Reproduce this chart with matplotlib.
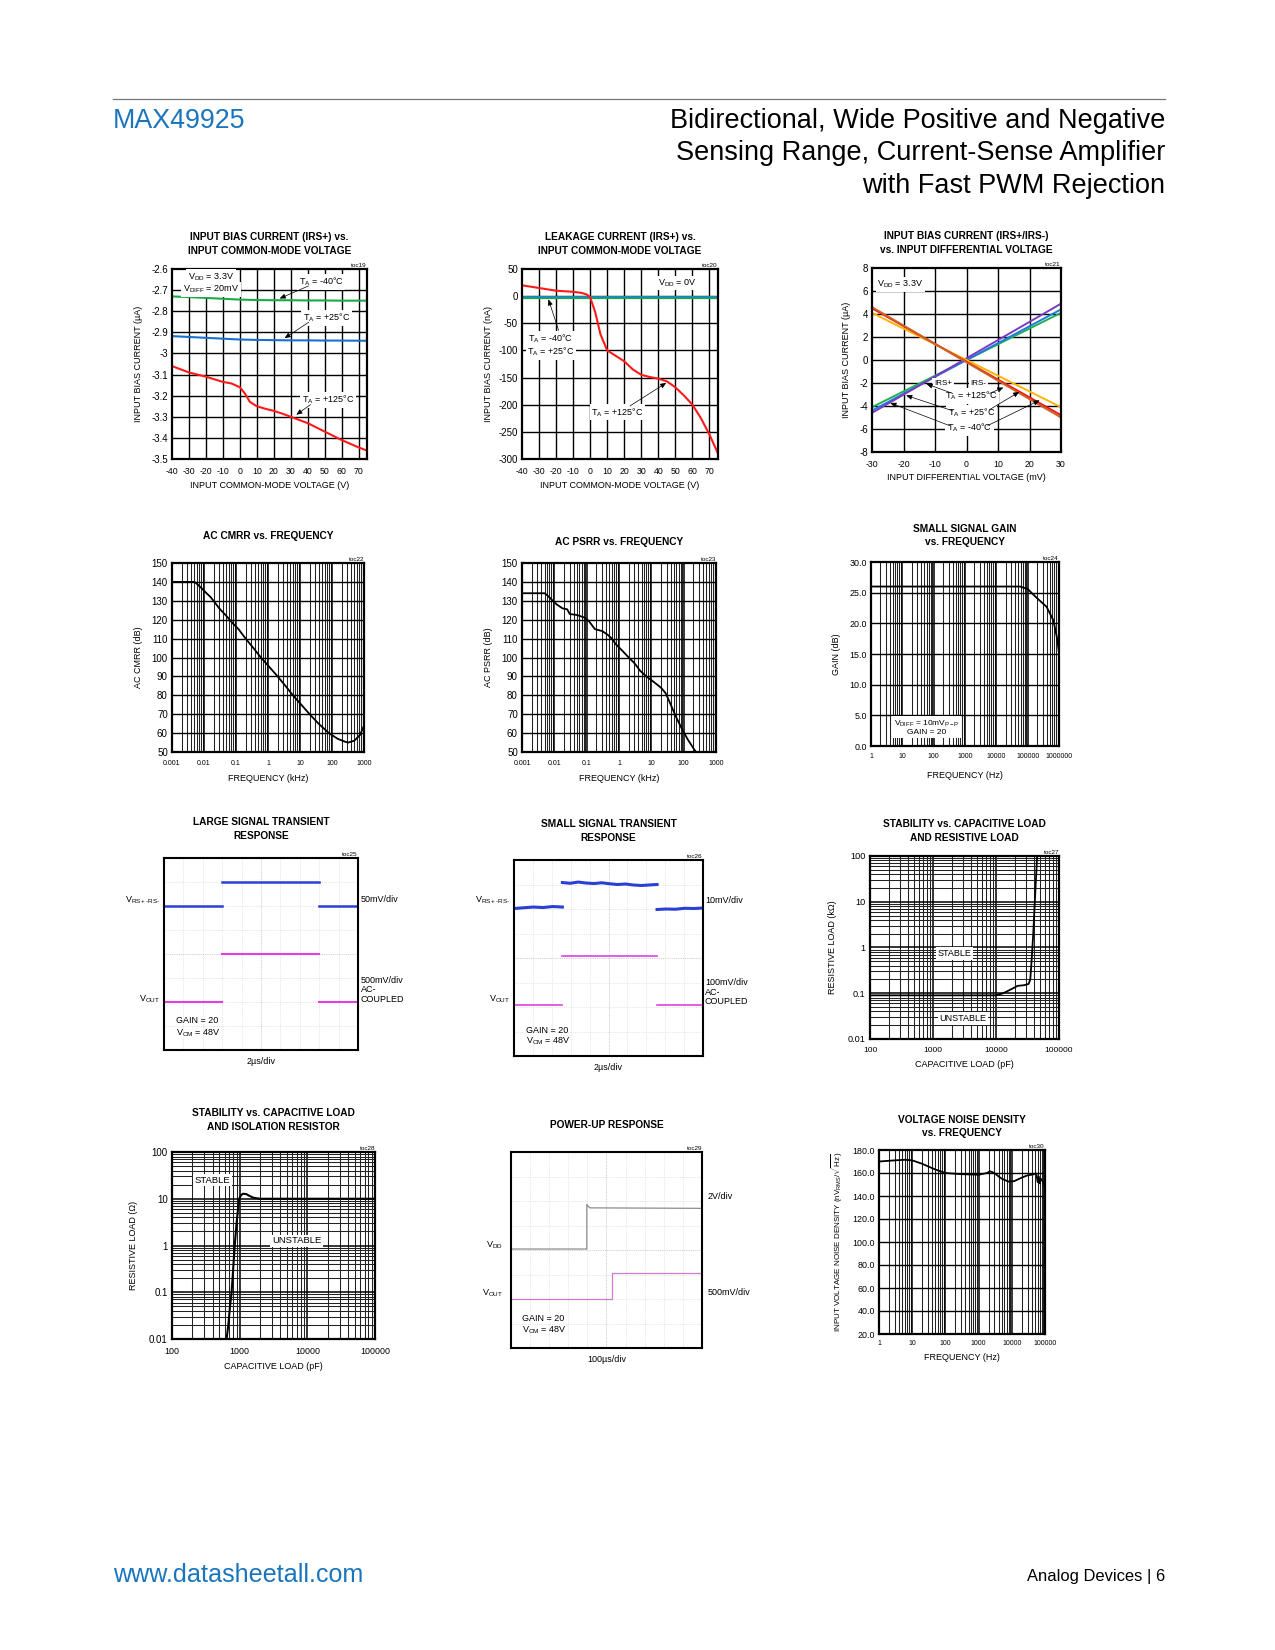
import numpy as np
import matplotlib
matplotlib.use('Agg')
import matplotlib.pyplot as plt
from matplotlib import font_manager as fm
from matplotlib.ticker import FixedLocator, FixedFormatter, NullFormatter, LogLocator, NullLocator

# ---------------- DATA ----------------
# toc19 input bias current vs VCM
t19_vcm = [-40, -30, -20, -10, 0, 10, 20, 30, 40, 50, 60, 75]
t19_m40 = [-2.730, -2.733, -2.737, -2.741, -2.745, -2.747, -2.748, -2.748, -2.749, -2.749, -2.750, -2.750]
t19_p25 = [-2.918, -2.922, -2.926, -2.930, -2.934, -2.936, -2.937, -2.938, -2.938, -2.939, -2.939, -2.940]
t19_vcm_hot = [-40, -30, -20, -10, -5, 0, 3, 6, 10, 15, 20, 25, 30, 40, 50, 60, 70, 75]
t19_p125 = [-3.06, -3.09, -3.11, -3.135, -3.142, -3.16, -3.19, -3.23, -3.25, -3.262, -3.272, -3.285,
            -3.30, -3.33, -3.37, -3.41, -3.445, -3.46]
t19_yticks = [-2.6, -2.7, -2.8, -2.9, -3.0, -3.1, -3.2, -3.3, -3.4, -3.5]
t19_ylabels = ['-2.6', '-2.7', '-2.8', '-2.9', '-3', '-3.1', '-3.2', '-3.3', '-3.4', '-3.5']
vcm_ticks = [-40, -30, -20, -10, 0, 10, 20, 30, 40, 50, 60, 70]

# toc20 leakage current
t20_vcm_flat = [-40, 75]
t20_m40 = [-3, -3]
t20_p25 = [-2, -2]
t20_vcm = [-40, -30, -20, -10, -5, -2, 0, 3, 6, 10, 15, 20, 25, 30, 35, 40, 45, 50, 55, 60, 65, 70, 75]
t20_p125 = [20, 15, 10, 8, 6, 3, -2, -30, -70, -100, -110, -120, -135, -145, -149, -152, -157,
            -168, -183, -200, -225, -255, -290]
t20_yticks = [50, 0, -50, -100, -150, -200, -250, -300]

# toc21 bias current vs differential voltage
t21_vdiff = [-30, 30]
t21_irsp_purple = [-4.6, 4.9]
t21_irsp_blue = [-4.4, 4.4]
t21_irsp_green = [-4.1, 4.1]
t21_irsm_brown = [4.6, -5.0]
t21_irsm_red = [4.5, -4.8]
t21_irsm_orange = [4.1, -4.1]
t21_yticks = [8, 6, 4, 2, 0, -2, -4, -6, -8]
t21_xticks = [-30, -20, -10, 0, 10, 20, 30]

# toc22 AC CMRR
t22_f = [0.001, 0.005, 0.006, 0.008, 0.012, 0.016, 0.022, 0.03, 0.05, 0.08, 0.12, 0.2, 0.35, 0.6,
         1.1, 2, 3.5, 6, 11, 20, 38, 80, 150, 250, 320, 500, 750, 1000]
t22_cmrr = [140, 140, 139, 137, 134, 132, 129, 126, 122, 118, 115, 110, 105, 100,
            95, 90, 85, 80, 75, 70, 65, 60, 57, 55.5, 55, 56, 59, 64]
# toc23 AC PSRR
t23_f = [0.001, 0.005, 0.006, 0.009, 0.012, 0.018, 0.025, 0.03, 0.05, 0.09, 0.12, 0.18, 0.3, 0.45,
         0.6, 0.8, 1.2, 2, 3, 4.5, 7, 12, 20, 28, 40, 60, 90, 130, 200, 240]
t23_psrr = [134, 134, 133, 130, 128, 126, 125.5, 123, 122.5, 121, 119, 115, 114, 112,
            110, 107, 104, 100, 97, 93, 90, 87, 84, 81, 75, 68, 62, 57, 52, 50]
khz_ticks = [0.001, 0.01, 0.1, 1, 10, 100, 1000]
khz_labels = ['0.001', '0.01', '0.1', '1', '10', '100', '1000']
db_ticks = [50, 60, 70, 80, 90, 100, 110, 120, 130, 140, 150]

# toc24 small signal gain
t24_f = [1, 1000, 10000, 57000, 100000, 190000, 400000, 660000, 850000, 1000000]
t24_gain = [26, 26, 26, 26, 25.6, 24.2, 22.7, 20.5, 17.8, 15.3]
hz6_ticks = [1, 10, 100, 1000, 10000, 100000, 1000000]
hz6_labels = ['1', '10', '100', '1000', '10000', '100000', '1000000']
gain_ticks = [0, 5, 10, 15, 20, 25, 30]
gain_labels = ['0.0', '5.0', '10.0', '15.0', '20.0', '25.0', '30.0']

# toc25 large-signal transient (divisions)
t25_edges = [0, 3.0, 8.0, 10]
t25_vin = [6.0, 7.0, 6.0]
t25_vout = [2.0, 4.0, 2.0]

# toc26 small-signal transient (divisions, hand-read wobble)
t26_edges = [0, 2.56, 7.57, 10]
t26_vin_seg = [[6.02, 6.05, 6.08, 6.06, 6.1, 6.08],
               [7.08, 7.05, 7.1, 7.06, 7.04, 7.07, 7.03, 7.0, 7.02, 6.98, 6.96, 6.98, 7.0],
               [5.98, 6.0, 5.99, 6.03, 6.02, 6.04]]
t26_vout = [2.08, 4.1, 2.08]

# toc27 stability vs cap load & resistive load
t27_c = [100, 1000, 10000, 13000, 18000, 22000, 28000, 33000, 35000, 37000, 39000, 41000, 43000, 45000]
t27_r = [0.09, 0.09, 0.09, 0.1, 0.125, 0.145, 0.15, 0.16, 0.2, 0.6, 2, 8, 30, 100]
# toc28 stability vs cap load & isolation resistor
t28_c = [560, 640, 680, 720, 760, 800, 845, 900, 980, 1050, 1120, 1250, 1400, 1600, 2000, 100000]
t28_r = [0.01, 0.01, 0.02, 0.05, 0.1, 0.3, 1, 3, 10, 12, 12.8, 12.6, 11.5, 10.5, 10, 10]
pf_ticks = [100, 1000, 10000, 100000]
pf_labels = ['100', '1000', '10000', '100000']
r_ticks = [0.01, 0.1, 1, 10, 100]
r_labels = ['0.01', '0.1', '1', '10', '100']

# toc29 power-up (divisions)
t29_t_vdd = [0, 3.97, 3.97, 4.12, 10]
t29_vdd = [4.04, 4.04, 5.86, 5.72, 5.70]
t29_t_vout = [0, 5.27, 5.27, 10]
t29_vout = [2.0, 2.0, 3.08, 3.08]

# toc30 voltage noise density
t30_f = [1, 3, 6, 10, 20, 50, 100, 300, 1000, 1800, 2200, 3000, 4000, 5000, 8000, 12000, 20000,
         30000, 40000, 55000, 60000, 65000, 70000, 75000, 85000, 100000]
t30_n = [170, 171, 171.5, 171, 168, 163, 160, 159, 158.5, 160, 161.5, 160, 157, 155, 152.5, 153, 156,
         158, 158.5, 159.5, 152, 157, 151, 155, 153, 147]
hz5_ticks = [1, 10, 100, 1000, 10000, 100000]
hz5_labels = ['1', '10', '100', '1000', '10000', '100000']
n_ticks = [20, 40, 60, 80, 100, 120, 140, 160, 180]
n_labels = ['20.0', '40.0', '60.0', '80.0', '100.0', '120.0', '140.0', '160.0', '180.0']

# ---------------- STYLE ----------------
names = {f.name for f in fm.fontManager.ttflist}
NARROW = 'Liberation Sans Narrow' if 'Liberation Sans Narrow' in names else 'Liberation Sans'
plt.rcParams['font.family'] = [NARROW, 'DejaVu Sans']
plt.rcParams['axes.unicode_minus'] = False
plt.rcParams['mathtext.fontset'] = 'custom'
plt.rcParams['mathtext.rm'] = NARROW
plt.rcParams['mathtext.it'] = NARROW

W, H = 1275, 1650
fig = plt.figure(figsize=(W / 100, H / 100), dpi=100)

BLUE = '#1a75bc'
TICK = 6.3
YTICK = 7.0
LAB = 6.5
TITLE = 7.3


def place(l, t, r, b):
    return fig.add_axes([l / W, 1 - b / H, (r - l) / W, (b - t) / H])


def frame(ax, lw=1.6, xpad=3):
    for s in ax.spines.values():
        s.set_linewidth(lw)
        s.set_color('black')
        s.set_zorder(5)
    ax.tick_params(length=0, labelsize=TICK, pad=3)
    ax.tick_params(axis='y', labelsize=YTICK)
    ax.tick_params(axis='x', pad=xpad)


def title(ax, txt, pad=10, toc=None):
    ax.set_title(txt, fontsize=TITLE, fontweight='bold', pad=pad, linespacing=1.45)
    if toc:
        ax.text(1.0, 1.004, toc, transform=ax.transAxes, ha='right', va='bottom', fontsize=4.6)


def linear_grid(ax, xt, yt):
    for x in xt:
        ax.axvline(x, color='black', lw=1.0, zorder=1)
    for y in yt:
        ax.axhline(y, color='black', lw=1.0, zorder=1)


def log_grid(ax, xlog=True, ylog=False, xdec=None, ydec=None, lin_y=None, lin_x=None):
    if xlog:
        for d in xdec:
            ax.axvline(d, color='black', lw=1.1, zorder=1)
            for m in range(2, 10):
                ax.axvline(d * m, color='#222222', lw=0.75, zorder=1)
    if lin_x is not None:
        for x in lin_x:
            ax.axvline(x, color='black', lw=1.0, zorder=1)
    if ylog:
        for d in ydec:
            ax.axhline(d, color='black', lw=1.1, zorder=1)
            for m in range(2, 10):
                ax.axhline(d * m, color='#222222', lw=0.75, zorder=1)
    if lin_y is not None:
        for y in lin_y:
            ax.axhline(y, color='black', lw=1.0, zorder=1)


def wbox(ax, x, y, s, **kw):
    kw.setdefault('fontsize', 6.5)
    return ax.text(x, y, s, bbox=dict(facecolor='white', edgecolor='none', pad=1.2), zorder=6, **kw)


def arrow(ax, xy, xytext):
    ax.annotate('', xy=xy, xytext=xytext,
                arrowprops=dict(arrowstyle='-|>,head_length=0.35,head_width=0.15', color='black', lw=0.5),
                zorder=7)


# ---------------- HEADER / FOOTER ----------------
fig.add_artist(plt.Line2D([113 / W, 1165 / W], [1 - 99 / H, 1 - 99 / H], color='#777777', lw=0.9))
fig.text(113 / W, 1 - 121 / H, 'MAX49925', color=BLUE, fontsize=19.3, family='Liberation Sans', va='center')
for i, line in enumerate(['Bidirectional, Wide Positive and Negative',
                          'Sensing Range, Current-Sense Amplifier',
                          'with Fast PWM Rejection']):
    fig.text(1165 / W, 1 - (121 + 32.5 * i) / H, line, fontsize=19.5, family='Liberation Sans',
             ha='right', va='center')
fig.text(113 / W, 1 - 1575 / H, 'www.datasheetall.com', color=BLUE, fontsize=18.1, family='Liberation Sans',
         va='center')
fig.text(1165 / W, 1 - 1577 / H, 'Analog Devices | 6', fontsize=11.9, family='Liberation Sans',
         ha='right', va='center')

# ---------------- toc19 ----------------
ax = place(172, 269, 367, 459)
frame(ax, xpad=6)
ax.set_xlim(-40, 75)
ax.set_ylim(-3.5, -2.6)
linear_grid(ax, vcm_ticks[1:], t19_yticks[1:-1])
ax.plot(t19_vcm, t19_m40, color='#1aaa4a', lw=1.5, zorder=3)
ax.plot(t19_vcm, t19_p25, color='#1a6fd0', lw=1.5, zorder=3)
ax.plot(t19_vcm_hot, t19_p125, color='#ff1a1a', lw=1.5, zorder=3)
ax.xaxis.set_major_locator(FixedLocator(vcm_ticks))
ax.yaxis.set_major_locator(FixedLocator(t19_yticks))
ax.yaxis.set_major_formatter(FixedFormatter(t19_ylabels))
ax.set_xlabel('INPUT COMMON-MODE VOLTAGE (V)', fontsize=LAB, labelpad=3)
ax.set_ylabel('INPUT BIAS CURRENT (µA)', fontsize=LAB, labelpad=6)
title(ax, 'INPUT BIAS CURRENT (IRS+) vs.\nINPUT COMMON-MODE VOLTAGE', pad=11, toc='toc19')
wbox(ax, -17, -2.637, r'V$_{\mathrm{DD}}$ = 3.3V', ha='center', va='center')
wbox(ax, -17, -2.697, r'V$_{\mathrm{DIFF}}$ = 20mV', ha='center', va='center')
wbox(ax, 48, -2.662, r'T$_{\mathrm{A}}$ = -40°C', ha='center', va='center')
wbox(ax, 51, -2.832, r'T$_{\mathrm{A}}$ = +25°C', ha='center', va='center')
wbox(ax, 52, -3.22, r'T$_{\mathrm{A}}$ = +125°C', ha='center', va='center')
arrow(ax, (22, -2.745), (42, -2.675))
arrow(ax, (25, -2.935), (42, -2.845))
arrow(ax, (32, -3.298), (43, -3.235))

# ---------------- toc20 ----------------
ax = place(522, 269, 718, 459)
frame(ax, xpad=6)
ax.set_xlim(-40, 75)
ax.set_ylim(-300, 50)
linear_grid(ax, vcm_ticks[1:], t20_yticks[1:-1])
ax.plot(t20_vcm_flat, t20_m40, color='#1aaa4a', lw=1.6, zorder=3)
ax.plot(t20_vcm_flat, t20_p25, color='#1a8fb0', lw=1.4, zorder=3)
ax.plot(t20_vcm, t20_p125, color='#ff1a1a', lw=1.5, zorder=3)
ax.xaxis.set_major_locator(FixedLocator(vcm_ticks))
ax.yaxis.set_major_locator(FixedLocator(t20_yticks))
ax.set_xlabel('INPUT COMMON-MODE VOLTAGE (V)', fontsize=LAB, labelpad=3)
ax.set_ylabel('INPUT BIAS CURRENT (nA)', fontsize=LAB, labelpad=4)
title(ax, 'LEAKAGE CURRENT (IRS+) vs.\nINPUT COMMON-MODE VOLTAGE', pad=11, toc='toc20')
wbox(ax, 51, 24, r'V$_{\mathrm{DD}}$ = 0V', ha='center', va='center')
wbox(ax, -23, -78, r'T$_{\mathrm{A}}$ = -40°C', ha='center', va='center')
wbox(ax, -23, -103, r'T$_{\mathrm{A}}$ = +25°C', ha='center', va='center')
wbox(ax, 16, -214, r'T$_{\mathrm{A}}$ = +125°C', ha='center', va='center')
arrow(ax, (-25, -1), (-18, -68))
arrow(ax, (46, -157), (22, -205))

# ---------------- toc21 ----------------
ax = place(872, 268, 1061, 452)
frame(ax, xpad=6)
ax.set_xlim(-30, 30)
ax.set_ylim(-8, 8)
linear_grid(ax, t21_xticks[1:-1], t21_yticks[1:-1])
ax.plot(t21_vdiff, t21_irsp_green, color='#20b050', lw=1.4, zorder=3)
ax.plot(t21_vdiff, t21_irsp_blue, color='#1f7be0', lw=1.4, zorder=3)
ax.plot(t21_vdiff, t21_irsp_purple, color='#7a3cc0', lw=1.4, zorder=3)
ax.plot(t21_vdiff, t21_irsm_orange, color='#ffb400', lw=1.4, zorder=3)
ax.plot(t21_vdiff, t21_irsm_red, color='#ff1010', lw=1.4, zorder=3)
ax.plot(t21_vdiff, t21_irsm_brown, color='#c8642a', lw=1.4, zorder=3)
ax.xaxis.set_major_locator(FixedLocator(t21_xticks))
ax.yaxis.set_major_locator(FixedLocator(t21_yticks))
ax.set_xlabel('INPUT DIFFERENTIAL VOLTAGE (mV)', fontsize=LAB, labelpad=3)
ax.set_ylabel('INPUT BIAS CURRENT (µA)', fontsize=LAB, labelpad=6)
title(ax, 'INPUT BIAS CURRENT (IRS+/IRS-)\nvs. INPUT DIFFERENTIAL VOLTAGE', pad=11, toc='toc21')
wbox(ax, -21, 6.55, r'V$_{\mathrm{DD}}$ = 3.3V', ha='center', va='center')
wbox(ax, -7.5, -2.05, 'IRS+', ha='center', va='center', fontsize=5.8)
wbox(ax, 3.8, -2.05, 'IRS-', ha='center', va='center', fontsize=5.8)
wbox(ax, 1.5, -3.15, r'T$_{\mathrm{A}}$ = +125°C', ha='center', va='center')
wbox(ax, 1.5, -4.6, r'T$_{\mathrm{A}}$ = +25°C', ha='center', va='center')
wbox(ax, 1.0, -5.9, r'T$_{\mathrm{A}}$ = -40°C', ha='center', va='center')
arrow(ax, (-13.5, -2.0), (-3.5, -3.0))
arrow(ax, (-20, -3.0), (-3.5, -4.5))
arrow(ax, (-25, -3.65), (-4.5, -5.8))
arrow(ax, (12.5, -2.3), (6.5, -3.0))
arrow(ax, (17.5, -2.65), (6.5, -4.45))
arrow(ax, (24, -3.4), (6.0, -5.8))

# ---------------- toc22 / toc23 ----------------
for (l, t, r, b), f, v, ttl, toc, ylab, pad in [
        ((172, 563, 364, 752), t22_f, t22_cmrr, 'AC CMRR vs. FREQUENCY', 'toc22', 'AC CMRR (dB)', 17),
        ((522, 563, 716, 752), t23_f, t23_psrr, 'AC PSRR vs. FREQUENCY', 'toc23', 'AC PSRR (dB)', 13)]:
    ax = place(l, t, r, b)
    frame(ax, xpad=6)
    ax.set_xscale('log')
    ax.set_xlim(0.001, 1000)
    ax.set_ylim(50, 150)
    log_grid(ax, xdec=khz_ticks[:-1], lin_y=db_ticks[1:-1])
    ax.plot(f, v, color='black', lw=1.3, zorder=3)
    ax.xaxis.set_major_locator(FixedLocator(khz_ticks))
    ax.xaxis.set_major_formatter(FixedFormatter(khz_labels))
    ax.xaxis.set_minor_locator(NullLocator())
    ax.yaxis.set_major_locator(FixedLocator(db_ticks))
    ax.tick_params(axis='x', labelsize=5.0)
    ax.set_xlabel('FREQUENCY (kHz)', fontsize=LAB, labelpad=5)
    ax.set_ylabel(ylab, fontsize=LAB, labelpad=6)
    title(ax, ttl, pad=pad, toc=toc)

# ---------------- toc24 ----------------
ax = place(871, 562, 1059, 746)
frame(ax, xpad=5)
ax.set_xscale('log')
ax.set_xlim(1, 1000000)
ax.set_ylim(0, 30)
log_grid(ax, xdec=hz6_ticks[:-1], lin_y=gain_ticks[1:-1])
ax.plot(t24_f, t24_gain, color='black', lw=1.3, zorder=3)
ax.xaxis.set_major_locator(FixedLocator(hz6_ticks))
ax.xaxis.set_major_formatter(FixedFormatter(hz6_labels))
ax.xaxis.set_minor_locator(NullLocator())
ax.yaxis.set_major_locator(FixedLocator(gain_ticks))
ax.yaxis.set_major_formatter(FixedFormatter(gain_labels))
ax.tick_params(axis='x', labelsize=5.0)
ax.tick_params(axis='y', labelsize=6.4)
ax.set_xlabel('FREQUENCY (Hz)', fontsize=LAB, labelpad=8)
ax.set_ylabel('GAIN (dB)', fontsize=LAB, labelpad=6)
title(ax, 'SMALL SIGNAL GAIN\nvs. FREQUENCY', pad=12, toc='toc24')
wbox(ax, 60, 3.0, r'V$_{\mathrm{DIFF}}$ = 10mV$_{\mathrm{P-P}}$' + '\nGAIN = 20', ha='center', va='center',
     fontsize=6.0, linespacing=1.1)


# ---------------- scope helper ----------------
def scope(ax):
    ax.set_xlim(0, 10)
    ax.set_ylim(0, 8)
    for x in range(1, 10):
        ax.axvline(x, color='#bdbdbd' if x == 5 else '#dedede', lw=0.6, ls=(0, (1, 1.2)), zorder=1)
    for y in range(1, 8):
        ax.axhline(y, color='#bdbdbd' if y == 4 else '#dedede', lw=0.6, ls=(0, (1, 1.2)), zorder=1)
    ax.set_xticks([])
    ax.set_yticks([])
    for s in ax.spines.values():
        s.set_linewidth(1.5)
        s.set_zorder(5)


SC = 6.5
# ---------------- toc25 ----------------
ax = place(164, 858, 358, 1050)
scope(ax)
title(ax, 'LARGE SIGNAL TRANSIENT\nRESPONSE', pad=14, toc='toc25')
for i in range(3):
    ax.plot([t25_edges[i], t25_edges[i + 1]], [t25_vin[i], t25_vin[i]], color='#2b3fd6', lw=1.8, zorder=3)
    ax.plot([t25_edges[i], t25_edges[i + 1]], [t25_vout[i], t25_vout[i]], color='#e040e0', lw=1.5, zorder=3)
kw = dict(fontsize=SC, clip_on=False)
ax.text(-0.2, 6.25, r'V$_{\mathrm{RS+\text{-}RS\text{-}}}$', ha='right', va='center', **kw)
ax.text(-0.2, 2.1, r'V$_{\mathrm{OUT}}$', ha='right', va='center', **kw)
ax.text(10.15, 6.25, '50mV/div', ha='left', va='center', **kw)
ax.text(10.15, 2.5, '500mV/div\nAC-\nCOUPLED', ha='left', va='center', linespacing=1.05, **kw)
ax.text(0.6, 1.22, 'GAIN = 20', ha='left', va='center', **kw)
ax.text(0.6, 0.7, r'V$_{\mathrm{CM}}$ = 48V', ha='left', va='center', **kw)
ax.text(5.0, -0.5, '2µs/div', ha='center', va='center', **kw)

# ---------------- toc26 ----------------
ax = place(514, 860, 703, 1056)
scope(ax)
title(ax, 'SMALL SIGNAL TRANSIENT\nRESPONSE', pad=14, toc='toc26')
for i in range(3):
    seg = t26_vin_seg[i]
    ax.plot(np.linspace(t26_edges[i], t26_edges[i + 1], len(seg)), seg, color='#2b3fd6', lw=2.2, zorder=3)
    ax.plot([t26_edges[i], t26_edges[i + 1]], [t26_vout[i], t26_vout[i]], color='#e040e0', lw=1.2, zorder=3)
ax.text(-0.2, 6.37, r'V$_{\mathrm{RS+\text{-}RS\text{-}}}$', ha='right', va='center', **kw)
ax.text(-0.2, 2.33, r'V$_{\mathrm{OUT}}$', ha='right', va='center', **kw)
ax.text(10.1, 6.34, '10mV/div', ha='left', va='center', **kw)
ax.text(10.1, 2.6, '100mV/div\nAC-\nCOUPLED', ha='left', va='center', linespacing=1.05, **kw)
ax.text(0.65, 1.06, 'GAIN = 20', ha='left', va='center', **kw)
ax.text(0.65, 0.6, r'V$_{\mathrm{CM}}$ = 48V', ha='left', va='center', **kw)
ax.text(5.0, -0.45, '2µs/div', ha='center', va='center', **kw)

# ---------------- toc27 ----------------
ax = place(870, 856, 1059, 1039)
frame(ax, xpad=6)
ax.set_xscale('log')
ax.set_yscale('log')
ax.set_xlim(100, 100000)
ax.set_ylim(0.01, 100)
log_grid(ax, xlog=True, ylog=True, xdec=pf_ticks[:-1], ydec=r_ticks[:-1])
ax.plot(t27_c, t27_r, color='black', lw=1.3, zorder=3)
ax.xaxis.set_major_locator(FixedLocator(pf_ticks))
ax.xaxis.set_major_formatter(FixedFormatter(pf_labels))
ax.yaxis.set_major_locator(FixedLocator(r_ticks))
ax.yaxis.set_major_formatter(FixedFormatter(r_labels))
ax.xaxis.set_minor_locator(NullLocator())
ax.yaxis.set_minor_locator(NullLocator())
ax.tick_params(axis='x', labelsize=6.0)
ax.tick_params(axis='y', labelsize=6.6)
ax.set_xlabel('CAPACITIVE LOAD (pF)', fontsize=LAB, labelpad=4)
ax.set_ylabel('RESISTIVE LOAD (kΩ)', fontsize=LAB, labelpad=8)
title(ax, 'STABILITY vs. CAPACITIVE LOAD\nAND RESISTIVE LOAD', pad=11, toc='toc27')
wbox(ax, 2200, 0.74, 'STABLE', ha='center', va='center')
wbox(ax, 3000, 0.028, 'UNSTABLE', ha='center', va='center')

# ---------------- toc28 ----------------
ax = place(172, 1152, 375, 1339)
frame(ax, xpad=6)
ax.set_xscale('log')
ax.set_yscale('log')
ax.set_xlim(100, 100000)
ax.set_ylim(0.01, 100)
log_grid(ax, xlog=True, ylog=True, xdec=pf_ticks[:-1], ydec=r_ticks[:-1])
ax.plot(t28_c, t28_r, color='black', lw=1.5, zorder=3)
ax.xaxis.set_major_locator(FixedLocator(pf_ticks))
ax.xaxis.set_major_formatter(FixedFormatter(pf_labels))
ax.yaxis.set_major_locator(FixedLocator(r_ticks))
ax.yaxis.set_major_formatter(FixedFormatter(r_labels))
ax.xaxis.set_minor_locator(NullLocator())
ax.yaxis.set_minor_locator(NullLocator())
ax.tick_params(axis='x', labelsize=6.4)
ax.tick_params(axis='y', labelsize=7.0)
ax.set_xlabel('CAPACITIVE LOAD (pF)', fontsize=LAB, labelpad=4)
ax.set_ylabel('RESISTIVE LOAD (Ω)', fontsize=LAB, labelpad=8)
title(ax, 'STABILITY vs. CAPACITIVE LOAD\nAND ISOLATION RESISTOR', pad=16, toc='toc28')
wbox(ax, 400, 25, 'STABLE', ha='center', va='center', fontsize=6.8)
wbox(ax, 6900, 1.25, 'UNSTABLE', ha='center', va='center', fontsize=6.8)

# ---------------- toc29 ----------------
ax = place(511, 1152, 702, 1348)
scope(ax)
title(ax, 'POWER-UP RESPONSE', pad=17, toc='toc29')
ax.plot(t29_t_vdd, t29_vdd, color='#8c8c8c', lw=0.9, zorder=3)
ax.plot(t29_t_vout, t29_vout, color='#d07ad0', lw=0.9, zorder=3)
ax.text(-0.4, 4.18, r'V$_{\mathrm{DD}}$', ha='right', va='center', **kw)
ax.text(-0.4, 2.24, r'V$_{\mathrm{OUT}}$', ha='right', va='center', **kw)
ax.text(10.3, 6.17, '2V/div', ha='left', va='center', **kw)
ax.text(10.3, 2.26, '500mV/div', ha='left', va='center', **kw)
ax.text(0.55, 1.19, 'GAIN = 20', ha='left', va='center', **kw)
ax.text(0.55, 0.72, r'V$_{\mathrm{CM}}$ = 48V', ha='left', va='center', **kw)
ax.text(5.0, -0.47, '100µs/div', ha='center', va='center', **kw)

# ---------------- toc30 ----------------
ax = place(879, 1150, 1045, 1334)
frame(ax, xpad=4)
ax.set_xscale('log')
ax.set_xlim(1, 100000)
ax.set_ylim(20, 180)
log_grid(ax, xdec=hz5_ticks[:-1], lin_y=n_ticks[1:-1])
ax.plot(t30_f, t30_n, color='black', lw=1.3, zorder=3)
ax.xaxis.set_major_locator(FixedLocator(hz5_ticks))
ax.xaxis.set_major_formatter(FixedFormatter(hz5_labels))
ax.xaxis.set_minor_locator(NullLocator())
ax.yaxis.set_major_locator(FixedLocator(n_ticks))
ax.yaxis.set_major_formatter(FixedFormatter(n_labels))
ax.tick_params(axis='x', labelsize=5.0)
ax.tick_params(axis='y', labelsize=6.4)
ax.set_xlabel('FREQUENCY (Hz)', fontsize=LAB, labelpad=5)
ax.set_ylabel(r'INPUT VOLTAGE NOISE DENSITY (nV$_{\mathrm{RMS}}$/$\sqrt{\mathrm{Hz}}$)', fontsize=5.8, labelpad=5)
title(ax, 'VOLTAGE NOISE DENSITY\nvs. FREQUENCY', pad=10, toc='toc30')

fig.savefig('out.png', dpi=100, facecolor='white')
